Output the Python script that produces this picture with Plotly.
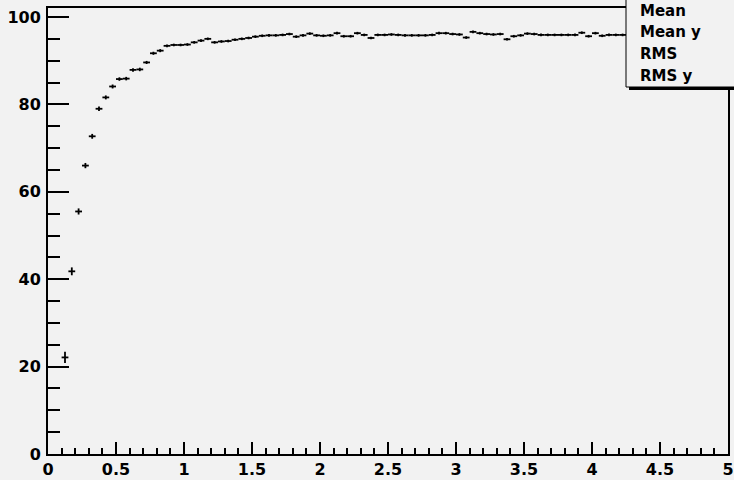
import plotly.graph_objects as go

# Profile bins (width 0.05) from 0 to 5
bin_width = 0.05
bin_centers = [round(0.025 + 0.05 * i, 3) for i in range(100)]

mean_y = [
    None, None, 22.1, 41.8, 55.5, 66.0, 72.7, 79.0, 81.6, 84.1,
    85.8, 85.9, 87.9, 88.0, 89.6, 91.7, 92.3, 93.4, 93.6, 93.6,
    93.7, 94.2, 94.6, 95.0, 94.2, 94.4, 94.5, 94.8, 95.0, 95.2,
    95.5, 95.7, 95.8, 95.8, 95.9, 96.1, 95.5, 95.8, 96.2, 95.8,
    95.7, 95.8, 96.3, 95.6, 95.6, 96.3, 95.9, 95.2, 95.9, 95.9,
    96.0, 95.9, 95.8, 95.8, 95.8, 95.8, 95.9, 96.3, 96.3, 96.1,
    96.0, 95.3, 96.6, 96.3, 96.1, 96.0, 96.1, 94.9, 95.6, 95.8,
    96.2, 96.1, 95.9, 95.9, 95.9, 95.9, 95.9, 95.9, 96.4, 95.6,
    96.3, 95.7, 95.9, 95.9, 95.9, 95.9, 96.1, 95.8, 96.0, 96.2,
    95.9, 95.8, 96.1, 96.0, 95.9, 96.1, 95.9, 96.0, 95.8, 96.0,
]

err_y = [
    0, 0, 1.3, 0.9, 0.7, 0.6, 0.55, 0.5, 0.45, 0.45,
    0.4, 0.4, 0.4, 0.4, 0.35, 0.35, 0.35, 0.3, 0.3, 0.3,
] + [0.3] * 80

stat_labels = ["Mean", "Mean y", "RMS", "RMS y"]

xticks = [0, 0.5, 1, 1.5, 2, 2.5, 3, 3.5, 4, 4.5, 5]
xticklabels = ["0", "0.5", "1", "1.5", "2", "2.5", "3", "3.5", "4", "4.5", "5"]
yticks = [0, 20, 40, 60, 80, 100]
yticklabels = ["0", "20", "40", "60", "80", "100"]

BG = "#f2f2f2"
FONT = "DejaVu Sans"

fig = go.Figure()
fig.add_trace(go.Scatter(
    x=bin_centers, y=mean_y, mode="markers",
    marker=dict(size=1, color="black"),
    error_x=dict(type="constant", value=bin_width / 2, width=0, thickness=1.8, color="black"),
    error_y=dict(type="data", array=err_y, width=0, thickness=1.8, color="black"),
    showlegend=False, hoverinfo="x+y",
))

W, H = 734, 480
L, R, T, B = 48, 6, 8, 26
pw, ph = W - L - R, H - T - B

def px_to_paper_x(px):
    return (px - L) / pw

def px_to_paper_y(py):
    return (H - B - py) / ph

# stats box (shadow + box)
bx0, bx1, by0, by1 = 626, 742, -12, 87
fig.add_shape(type="rect", xref="paper", yref="paper",
              x0=px_to_paper_x(bx0 + 3), x1=px_to_paper_x(bx1 + 3),
              y0=px_to_paper_y(by1 + 3), y1=px_to_paper_y(by0 + 3),
              fillcolor="black", line=dict(width=0), layer="above")
fig.add_shape(type="rect", xref="paper", yref="paper",
              x0=px_to_paper_x(bx0), x1=px_to_paper_x(bx1),
              y0=px_to_paper_y(by1), y1=px_to_paper_y(by0),
              fillcolor=BG, line=dict(color="black", width=1), layer="above")

label_y = [11, 32, 54, 76]
for lab, ly in zip(stat_labels, label_y):
    fig.add_annotation(xref="paper", yref="paper",
                       x=px_to_paper_x(638), y=px_to_paper_y(ly),
                       text=lab, showarrow=False, xanchor="left", yanchor="middle",
                       font=dict(family=FONT, size=15, color="black", weight="bold"))

fig.update_layout(
    template="none",
    width=W, height=H,
    margin=dict(l=L, r=R, t=T, b=B, pad=0, autoexpand=False),
    paper_bgcolor=BG, plot_bgcolor=BG,
    showlegend=False,
)
fig.update_xaxes(
    automargin=False,
    range=[0, 5], tickvals=xticks, ticktext=xticklabels,
    ticks="inside", ticklen=12, tickwidth=2, tickcolor="black",
    minor=dict(dtick=0.1, ticks="inside", ticklen=6, tickwidth=2, tickcolor="black", showgrid=False),
    showline=True, linecolor="black", linewidth=2, mirror=True,
    showgrid=False, zeroline=False, ticklabelstandoff=0, ticklabeloverflow="allow",
    tickfont=dict(family=FONT, size=16, color="black", weight="bold"),
)
fig.update_yaxes(
    automargin=False,
    range=[0, 102.06], tickvals=yticks, ticktext=yticklabels,
    ticks="inside", ticklen=21, tickwidth=2, tickcolor="black",
    minor=dict(dtick=5, ticks="inside", ticklen=12, tickwidth=2, tickcolor="black", showgrid=False),
    showline=True, linecolor="black", linewidth=2, mirror=True,
    showgrid=False, zeroline=False, ticklabelstandoff=2, ticklabeloverflow="allow",
    tickfont=dict(family=FONT, size=16, color="black", weight="bold"),
)

fig.write_html(
    "out.html",
    config={"displayModeBar": False},
    post_script="document.body.style.margin='0';document.body.style.background='#f2f2f2';document.body.style.overflow='hidden';",
)
